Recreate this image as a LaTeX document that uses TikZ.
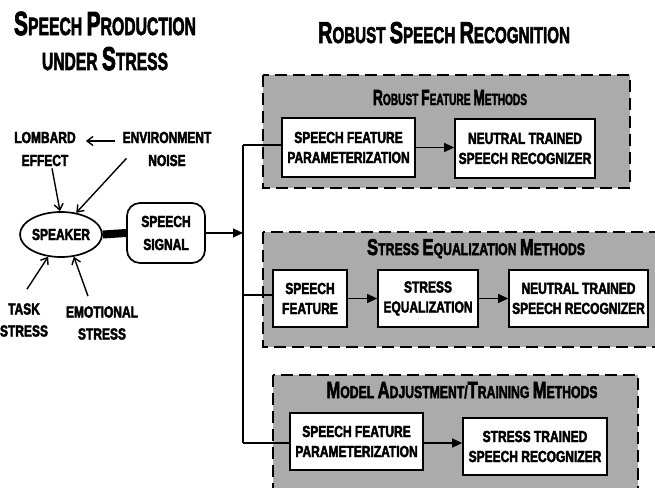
\documentclass[tikz,border=0pt]{standalone}
\usepackage{graphicx}
\usepackage{fontspec}
\setmainfont{Liberation Sans}
\newfontfamily\fbody[FakeStretch=0.75,FakeBold=2.6]{Liberation Sans}
\newfontfamily\ftitle[FakeBold=3]{Liberation Sans}
\usetikzlibrary{arrows.meta,shapes.geometric}
\newcommand\ini[2]{{\fontsize{#1}{#1}\selectfont #2}}
\newcommand\ttl[3]{\resizebox{#1}{#2}{\ftitle\bfseries #3}}
\tikzset{
  grp/.style={fill=black!33, draw=black, line width=1.8pt, dash pattern=on 12pt off 6pt},
  box/.style={draw, line width=1.7pt, fill=white, align=center, inner sep=0pt,
    font=\fbody\bfseries\fontsize{16}{20}\selectfont},
  lab/.style={align=center, inner sep=0pt, font=\fbody\bfseries\fontsize{16}{23}\selectfont},
  ttlnode/.style={anchor=base, inner sep=0pt},
  opena/.style={-{Straight Barb[length=6pt,width=9pt]}, line width=1.4pt},
  fla/.style={-{Triangle[length=10pt,width=9pt]}, line width=1.2pt},
  bus/.style={line width=1.3pt}
}
\begin{document}
\begin{tikzpicture}[x=1pt,y=-1pt]
\useasboundingbox (0,0) rectangle (655,487);
\clip (0,0) rectangle (655,487);
\fill[white] (0,0) rectangle (655,487);

% titles
\node[ttlnode] (tL1) at (105,35) {\ttl{182pt}{23.3pt}{\fontsize{24}{24}\selectfont\ini{32}{S}PEECH \ini{32}{P}RODUCTION}};
\node[ttlnode] (tL2) at (105,70) {\ttl{126pt}{23pt}{\fontsize{24}{24}\selectfont UNDER \ini{32}{S}TRESS}};
\node[ttlnode] (tR) at (444,43) {\ttl{252pt}{21pt}{\fontsize{22}{22}\selectfont\ini{29}{R}OBUST \ini{29}{S}PEECH \ini{29}{R}ECOGNITION}};

% gray groups
\path[grp] (263,75) rectangle (630,188);
\path[grp] (263,232) rectangle (662,347);
\path[grp] (273,375) rectangle (638,497);

\node[ttlnode] (t1) at (450,105) {\ttl{154pt}{15pt}{\fontsize{14}{14}\selectfont\ini{19}{R}OBUST \ini{19}{F}EATURE \ini{19}{M}ETHODS}};
\node[ttlnode] (t2) at (476,255) {\ttl{218pt}{16pt}{\fontsize{14}{14}\selectfont\ini{19}{S}TRESS \ini{19}{E}QUALIZATION \ini{19}{M}ETHODS}};
\node[ttlnode] (t3) at (462,398) {\ttl{271pt}{16pt}{\fontsize{14}{14}\selectfont\ini{19}{M}ODEL \ini{19}{A}DJUSTMENT/\ini{19}{T}RAINING \ini{19}{M}ETHODS}};

% left part
\node[lab] (lom) at (45,149) {LOMBARD\\EFFECT};
\node[lab] (env) at (167,149) {ENVIRONMENT\\NOISE};
\node[lab, font=\fbody\bfseries\fontsize{16}{22}\selectfont] (task) at (24,320) {TASK\\STRESS};
\node[lab, font=\fbody\bfseries\fontsize{16}{22}\selectfont] (emo) at (102,323) {EMOTIONAL\\STRESS};
\node[draw, ellipse, line width=1.7pt, minimum width=78pt, minimum height=45pt, inner sep=0pt,
  font=\fbody\bfseries\fontsize{16}{20}\selectfont] (spk) at (61,234.5) {SPEAKER};
\node[draw, rounded corners=13pt, line width=1.7pt, minimum width=78pt, minimum height=60pt,
  align=center, inner sep=0pt, font=\fbody\bfseries\fontsize{16}{23}\selectfont] (sig) at (166,233) {SPEECH\\SIGNAL};

\draw[opena] ([shift={(-7pt,8pt)}]env.west) -- ([shift={(10pt,8pt)}]lom.east);
\draw[opena] ([xshift=7pt,yshift=-2pt]lom.south) -- ([xshift=-1pt]spk.north);
\draw[opena] ([shift={(4pt,8pt)}]env.south west) -- (spk.55);
\draw[opena] ([shift={(3pt,14pt)}]task.north) -- (spk.240);
\draw[opena] ([shift={(-14pt,10pt)}]emo.north) -- (spk.300);
\draw[line width=8pt] (spk.east) -- (sig.west);

% boxes
\node[box, minimum width=133pt, minimum height=59pt] (a1) at (348.5,147.5) {SPEECH FEATURE\\PARAMETERIZATION};
\node[box, minimum width=140pt, minimum height=59pt] (a2) at (525,148.5) {NEUTRAL TRAINED\\SPEECH RECOGNIZER};
\node[box, minimum width=74pt, minimum height=57pt] (b1) at (310,298.5) {SPEECH\\FEATURE};
\node[box, minimum width=100pt, minimum height=57pt] (b2) at (428,298.5) {STRESS\\EQUALIZATION};
\node[box, minimum width=139pt, minimum height=57pt] (b3) at (578.5,298.5) {NEUTRAL TRAINED\\SPEECH RECOGNIZER};
\node[box, minimum width=133pt, minimum height=57pt] (c1) at (356.5,441.5) {SPEECH FEATURE\\PARAMETERIZATION};
\node[box, minimum width=144pt, minimum height=57pt] (c2) at (535,446.5) {STRESS TRAINED\\SPEECH RECOGNIZER};

% bus
\coordinate (j1) at (243,145);
\coordinate (jin) at (243,233);
\coordinate (j2) at (243,295);
\coordinate (j3) at (243,443);
\draw[bus] (j1) -- (j3);
\draw[bus] (j1) -- (j1 -| a1.west);
\draw[bus] (j2) -- (j2 -| b1.west);
\draw[bus] (j3) -- (j3 -| c1.west);
\draw[fla] (sig.east) -- (jin);

\draw[fla] (a1.east) -- (a1.east -| a2.west);
\draw[fla] (b1.east) -- (b2.west);
\draw[fla] (b2.east) -- (b3.west);
\draw[fla] (c1.east |- j3) -- (j3 -| c2.west);
\end{tikzpicture}
\end{document}
